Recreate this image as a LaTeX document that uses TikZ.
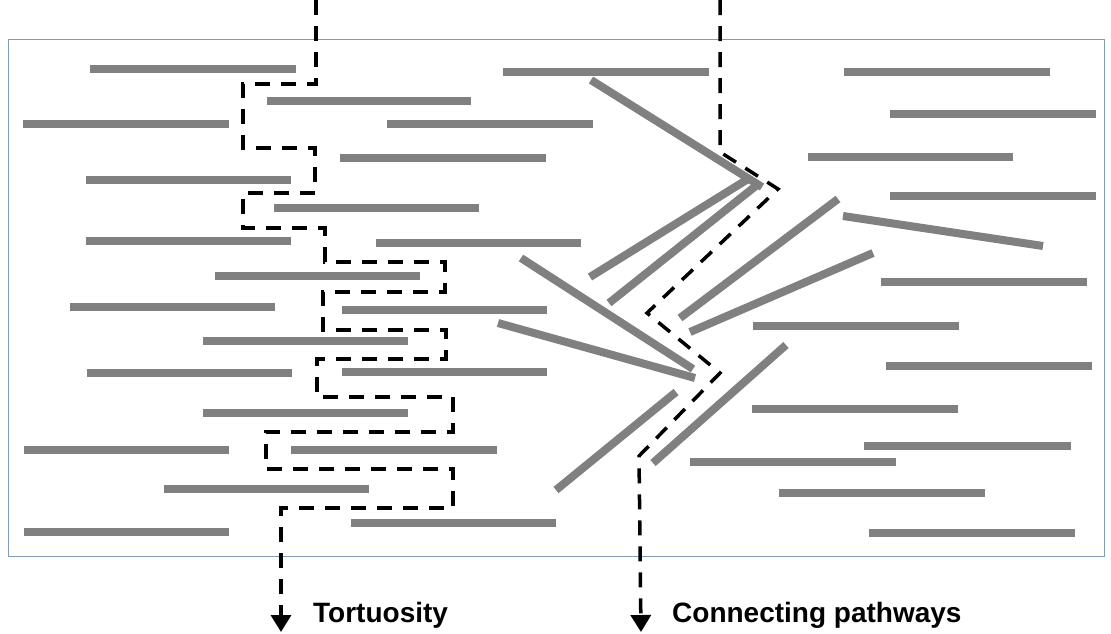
\documentclass[tikz,border=0pt]{standalone}
\usepackage{fontspec}
\setmainfont{Liberation Sans}
\usetikzlibrary{arrows.meta}
\definecolor{barg}{RGB}{128,128,128}
\definecolor{framec}{RGB}{127,157,185}
\begin{document}
\begin{tikzpicture}[x=1pt,y=-1pt,
  bar/.style={line width=8pt, draw=barg, line cap=butt},
  route/.style={line width=3.5pt, draw=black, dash pattern=on 15pt off 11pt, line join=miter},
  tip/.style={-{Triangle[width=20pt,length=17pt]}},
  lab/.style={anchor=base west, inner sep=0pt, font=\bfseries\fontsize{28}{30}\selectfont}]
\useasboundingbox (0,0) rectangle (1111,633);
\fill[white] (0,0) rectangle (1111,633);
% frame
\draw[framec, line width=1pt] (8,39) rectangle (1104,556);
% horizontal bars
\foreach \xa/\xb/\yy in {90/296/69, 267/471/101, 23/229/124, 387/593/124, 340/546/158,
  86/291/180, 274/479/208, 86/291/241, 376/581/243, 215/420/276, 70/275/307,
  342/547/310, 203/408/341, 87/292/373, 342/547/372, 203/408/413, 24/229/450,
  291/497/450, 164/369/489, 24/229/532, 351/556/523, 503/709/72,
  844/1050/72, 890/1096/114, 808/1013/157, 890/1096/196, 881/1087/282,
  753/959/326, 886/1092/366, 752/958/409, 864/1071/446, 690/896/462,
  779/985/493, 869/1075/533}
  \draw[bar] (\xa,\yy) -- (\xb,\yy);
% tilted bars
\foreach \xa/\ya/\xb/\yb in {591/80/762/187, 590/277/748/179, 609/303/757/185,
  521/258/693/369, 498/323/695/378, 556/490/676/392, 653/463/786/345,
  680/318/838/199, 690/332/873/253, 843/216/1043/246}
  \draw[bar] (\xa,\ya) -- (\xb,\yb);
% tortuosity route
\coordinate (ltop) at (316,0);
\coordinate (lend) at (281,632);
\draw[route, tip] (ltop) -- (316,84) -- (243,84) -- (243,148) -- (315,148) -- (315,193)
  -- (243,193) -- (243,228) -- (325,228) -- (325,262) -- (445,262) -- (445,292)
  -- (323,292) -- (323,330) -- (446,330) -- (446,359) -- (317,359) -- (317,397)
  -- (453,397) -- (453,432) -- (266,432) -- (266,469) -- (453,469) -- (453,508)
  -- (281,508) -- (lend);
% connecting pathway route
\coordinate (rtop) at (720,0);
\coordinate (rend) at (641,632);
\draw[route, tip] (rtop) -- (720,152) -- (778,189) -- (647,313) -- (720,373)
  -- (639,456) -- (rend);
% labels
\node[lab] (tort) at (313,622) {Tortuosity};
\node[lab] (conn) at (672,622) {Connecting pathways};
\end{tikzpicture}
\end{document}
